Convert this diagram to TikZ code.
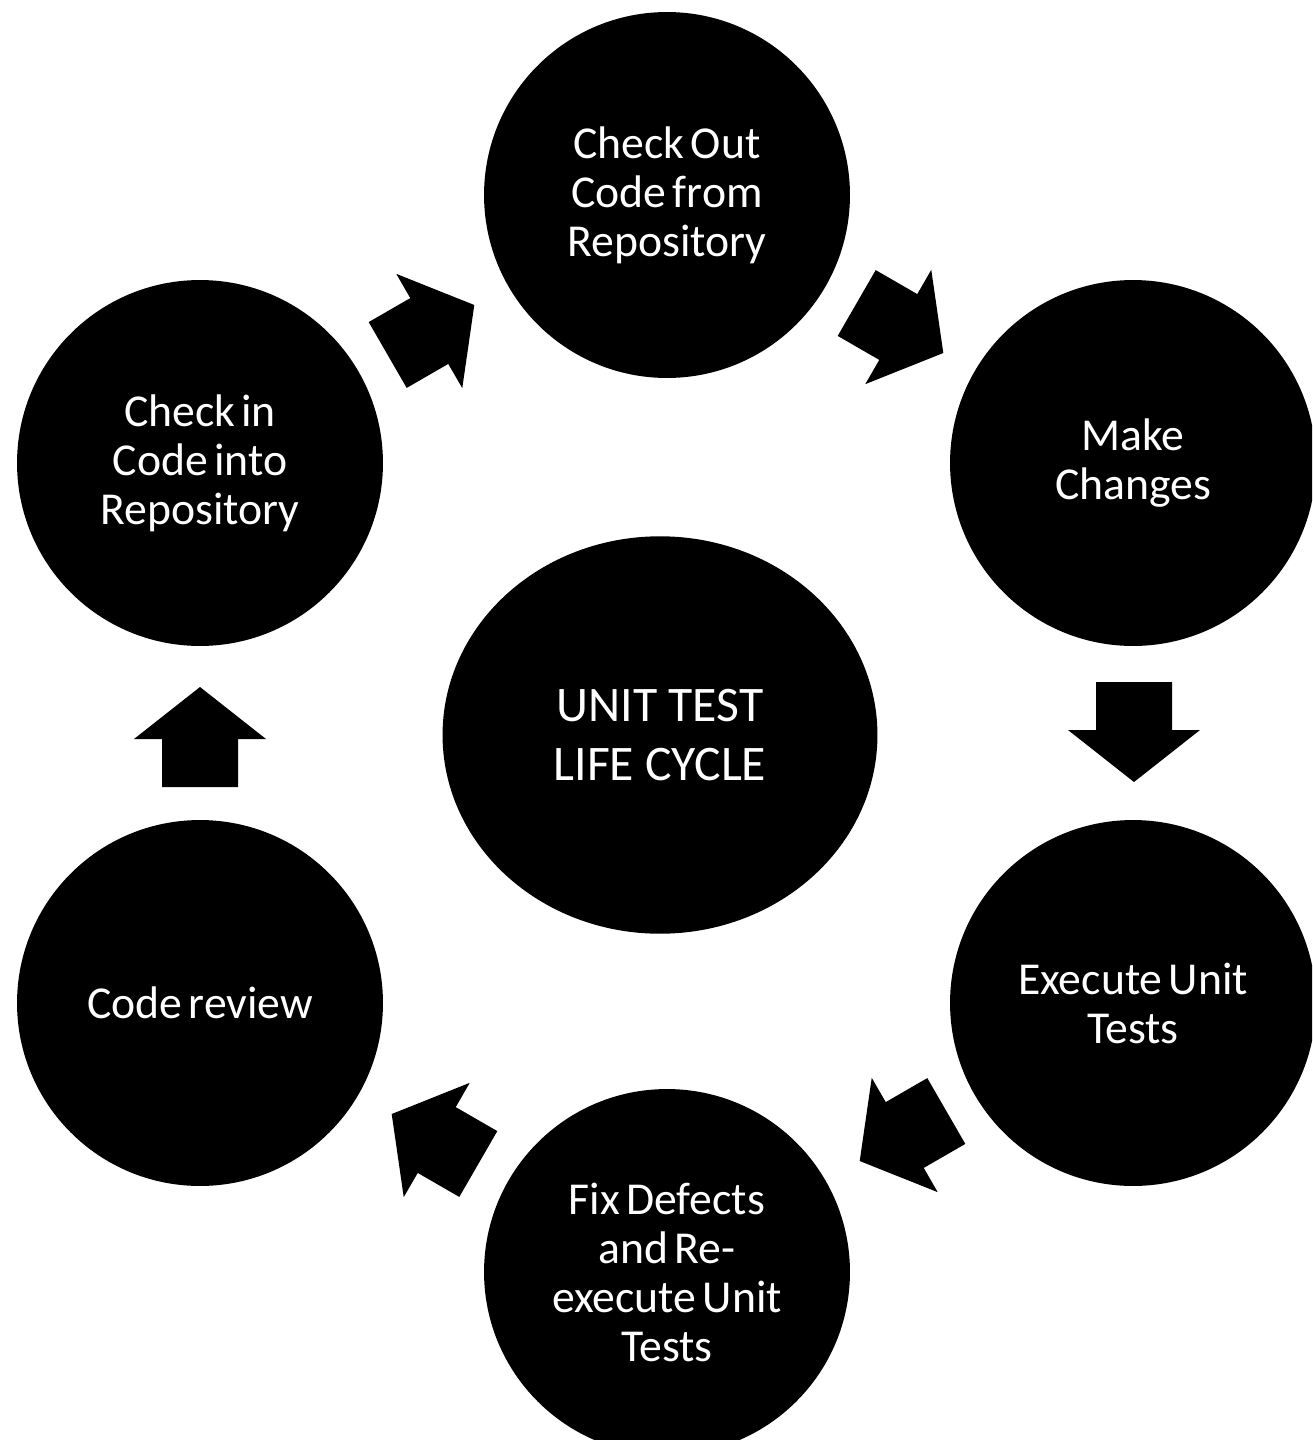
\documentclass[tikz,border=0pt]{standalone}
\usepackage{fontspec}
\setmainfont{Carlito}
\usetikzlibrary{shapes.geometric}
\newcommand{\stagefont}{\fontsize{26pt}{27.9pt}\selectfont\spaceskip=3.6pt plus 1pt\relax}
\tikzset{
  stage/.style={circle, fill=black, text=white, align=center, inner sep=0pt,
    minimum size=7.32cm, font=\stagefont},
  hub/.style={ellipse, fill=black, text=white, align=center, inner sep=0pt,
    minimum width=8.7cm, minimum height=7.95cm, font=\fontsize{28.3pt}{34.1pt}\selectfont},
  blockarrow/.pic={\fill[black] (-50,-38) -- (-2,-38) -- (-2,-66) -- (50,0) -- (-2,66) -- (-2,38) -- (-50,38) -- cycle;}
}
\begin{document}
\begin{tikzpicture}[x=0.02cm,y=-0.02cm]
\useasboundingbox (0,0) rectangle (1312,1440);
\fill[white] (0,0) rectangle (1312,1440);
\begin{scope}
\clip (0,0) rectangle (1312,1440);
\node[stage] (checkout) at (667,195) {Check Out\\Code from\\Repository};
\node[stage] (make) at (1133,463) {Make\\Changes};
\node[stage] (exec) at (1133,1003) {Execute Unit\\Tests};
\node[stage] (fix) at (667,1272) {Fix Defects\\and Re-\\execute Unit\\Tests};
\node[stage] (review) at (200,1003) {Code review};
\node[stage] (checkin) at (200,463) {Check in\\Code into\\Repository};
\node[hub] (hub) at (660,735) {UNIT TEST\\LIFE CYCLE};
\pic[rotate=30] (a1) at (431,330) {blockarrow};
\pic[rotate=-30] (a2) at (900,328) {blockarrow};
\pic[rotate=-90] (a3) at (1134,732) {blockarrow};
\pic[rotate=210] (a4) at (903,1136) {blockarrow};
\pic[rotate=150] (a5) at (435,1139) {blockarrow};
\pic[rotate=90] (a6) at (200,737) {blockarrow};
\end{scope}
\end{tikzpicture}
\end{document}
